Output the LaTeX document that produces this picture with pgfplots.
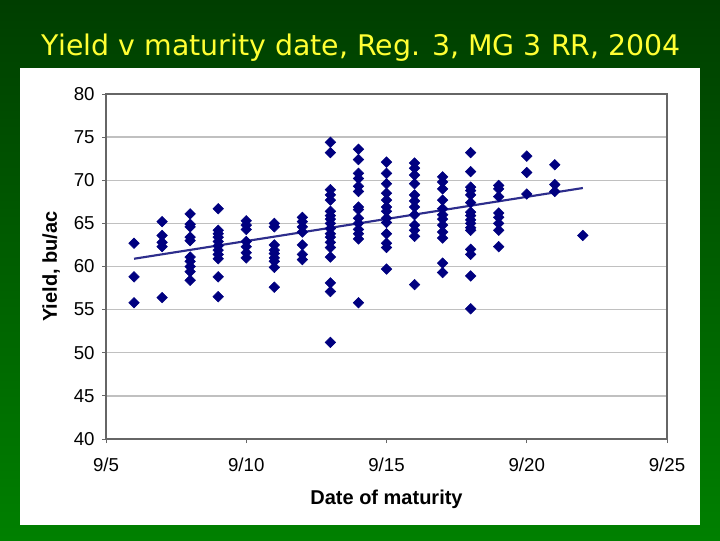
\documentclass[border=0pt]{standalone}
\usepackage{pgfplots}
\pgfplotsset{compat=1.18}
\usepackage{fontspec}
\setmainfont{Liberation Sans}
\newfontfamily\titlefont{DejaVu Sans}
\definecolor{navy}{RGB}{0,0,128}
\definecolor{trend}{RGB}{45,45,140}
\definecolor{gridgray}{RGB}{192,192,192}
\definecolor{bgtop}{RGB}{0,62,0}
\definecolor{bgbot}{RGB}{0,128,0}
\definecolor{ttl}{RGB}{255,255,51}
\begin{document}
\begin{tikzpicture}
% background (720x540 px, 1px = 0.75pt)
\shade[top color=bgtop, bottom color=bgbot] (0pt,0pt) rectangle (540pt,405pt);
\fill[white] (15pt,11.25pt) rectangle (525pt,354pt);
\node[text=ttl, font=\titlefont\fontsize{21.3}{24}\selectfont, anchor=base] at (271pt,363.5pt) {Yield v maturity date, Reg. 3, MG 3 RR, 2004};
\begin{axis}[
  scale only axis,
  width=420.75pt, height=258.75pt,
  at={(79.5pt,75.75pt)}, anchor=south west,
  xmin=5, xmax=25, ymin=40, ymax=80,
  xtick={5,10,15,20,25},
  xticklabels={9/5,9/10,9/15,9/20,9/25},
  ytick={40,45,...,80},
  ymajorgrids,
  grid style={gridgray, line width=1pt},
  axis line style={draw=gray!80!black, line width=0.8pt},
  tick style={draw=gray!80!black, line width=0.6pt},
  tick align=outside,
  major tick length=3pt,
  xtick pos=bottom, ytick pos=left,
  tick label style={font=\fontsize{14}{16}\selectfont},
  /pgf/number format/assume math mode=true,
  xticklabel style={yshift=-7.5pt},
  yticklabel style={xshift=-2pt},
  xlabel={\bfseries Date of maturity},
  ylabel={\bfseries Yield, bu/ac},
  label style={font=\fontsize{15}{17}\selectfont},
  xlabel style={yshift=-7pt},
  ylabel style={yshift=3.5pt},
  clip=false,
]
\addplot[only marks, mark=square*, mark size=2.8pt, mark options={rotate=45, fill=navy, draw=navy}] table {
x y
6 62.7
6 58.8
6 55.8
7 65.2
7 63.6
7 62.8
7 62.3
7 56.4
8 66.1
8 64.9
8 64.6
8 63.4
8 63.0
8 61.1
8 60.6
8 60.0
8 59.4
8 58.4
9 66.7
9 64.2
9 63.8
9 63.4
9 62.9
9 62.4
9 61.9
9 61.4
9 60.9
9 58.8
9 56.5
10 65.3
10 64.8
10 64.3
10 62.9
10 62.3
10 61.6
10 61.0
11 65.0
11 64.6
11 62.5
11 61.9
11 61.5
11 61.0
11 60.6
11 59.9
11 57.6
12 65.7
12 65.2
12 64.6
12 64.0
12 62.5
12 61.4
12 60.8
13 74.4
13 73.2
13 68.9
13 68.3
13 67.7
13 66.4
13 65.9
13 65.5
13 65.0
13 64.4
13 63.8
13 63.4
13 62.8
13 62.2
13 61.1
13 58.1
13 57.1
13 51.2
14 73.6
14 72.4
14 70.8
14 70.2
14 69.3
14 68.7
14 66.9
14 66.6
14 65.6
14 65.0
14 64.3
14 63.8
14 63.2
14 55.8
15 72.1
15 70.8
15 69.6
15 68.5
15 67.7
15 66.9
15 66.4
15 65.6
15 65.1
15 63.8
15 62.7
15 62.2
15 59.7
16 72.0
16 71.4
16 70.6
16 69.6
16 68.3
16 67.6
16 66.9
16 66.0
16 64.8
16 64.2
16 63.5
16 57.9
17 70.4
17 69.8
17 69.0
17 67.7
17 66.7
17 66.0
17 65.5
17 64.8
17 64.0
17 63.3
17 60.4
17 59.3
18 73.2
18 71.0
18 69.2
18 68.8
18 68.3
18 67.4
18 66.3
18 65.9
18 65.4
18 65.0
18 64.5
18 64.2
18 62.0
18 61.4
18 58.9
18 55.1
19 69.4
19 69.0
19 68.1
19 66.2
19 65.7
19 65.0
19 64.2
19 62.3
20 72.8
20 70.9
20 68.4
21 71.8
21 69.5
21 68.7
22 63.6
};
\addplot[trend, line width=1.6pt] coordinates {(6,60.9) (22,69.1)};
\end{axis}
\end{tikzpicture}
\end{document}
